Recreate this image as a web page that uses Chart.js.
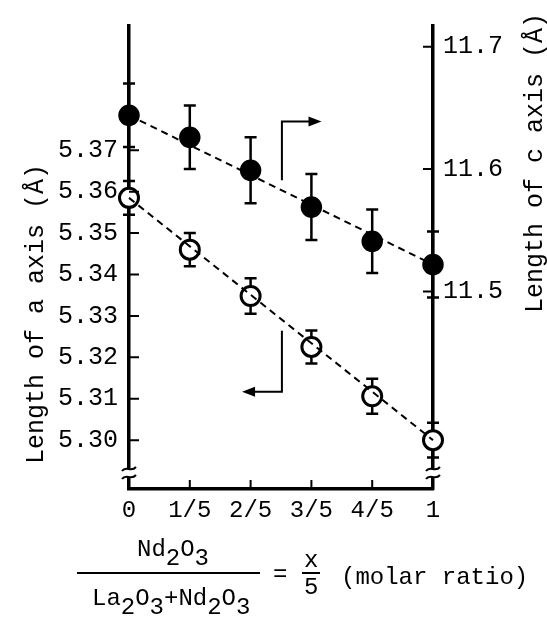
<!DOCTYPE html>
<html>
<head>
<meta charset="utf-8">
<script src="https://cdn.jsdelivr.net/npm/chart.js@4.4.1/dist/chart.umd.min.js"></script>
<style>
  html, body { margin: 0; padding: 0; background: #fff; }
  canvas { display: block; }
</style>
</head>
<body>
<canvas id="latticeChart" width="547" height="618"></canvas>
<script>
// composition x/5 and tick labels
const xValues = [0, 0.2, 0.4, 0.6, 0.8, 1];
const xTickLabels = ['0', '1/5', '2/5', '3/5', '4/5', '1'];

// a axis (open circles, left scale)
const aAxis = [5.3585, 5.3460, 5.3348, 5.3225, 5.3106, 5.3000];
const aErr = [0.0041, 0.0040, 0.0043, 0.0040, 0.0042, 0.0042];
const aFit = [5.3585, 5.3000];
const aTicks = [5.30, 5.31, 5.32, 5.33, 5.34, 5.35, 5.36, 5.37];

// c axis (filled circles, right scale)
const cAxis = [11.644, 11.626, 11.599, 11.569, 11.541, 11.522];
const cErr = [0.026, 0.026, 0.027, 0.027, 0.026, 0.027];
const cFit = [11.644, 11.522];
const cTicks = [11.5, 11.6, 11.7];

// arrows pointing to the scale each series belongs to (data units)
const arrowC = { x: [0.503, 0.503, 0.62], y: [11.591, 11.639, 11.639] };
const arrowA = { x: [0.503, 0.503, 0.385], y: [5.3264, 5.3117, 5.3117] };

const FONT = "'Liberation Mono', 'Courier New', monospace";

function pts(xs, ys) {
  return xs.map((x, i) => ({ x: x, y: ys[i] }));
}

// error bars, drawn under the markers
const errorBars = {
  id: 'errorBars',
  beforeDatasetsDraw(chart) {
    const ctx = chart.ctx;
    const x = chart.scales.x;
    const sets = [
      { scale: chart.scales.y2, vals: cAxis, errs: cErr },
      { scale: chart.scales.y, vals: aAxis, errs: aErr }
    ];
    ctx.save();
    ctx.strokeStyle = '#000';
    ctx.lineWidth = 2.5;
    sets.forEach(s => {
      s.vals.forEach((v, i) => {
        const px = x.getPixelForValue(xValues[i]);
        const top = s.scale.getPixelForValue(v + s.errs[i]);
        const bot = s.scale.getPixelForValue(v - s.errs[i]);
        ctx.beginPath();
        ctx.moveTo(px, top); ctx.lineTo(px, bot);
        ctx.moveTo(px - 6, top); ctx.lineTo(px + 6, top);
        ctx.moveTo(px - 6, bot); ctx.lineTo(px + 6, bot);
        ctx.stroke();
      });
    });
    ctx.restore();
  }
};

// inward tick marks, axis breaks, arrows and titles
const decorations = {
  id: 'decorations',
  afterDraw(chart) {
    const ctx = chart.ctx;
    const area = chart.chartArea;
    const xs = chart.scales.x, ys = chart.scales.y, ys2 = chart.scales.y2;
    ctx.save();
    ctx.strokeStyle = '#000';
    ctx.fillStyle = '#000';
    ctx.lineWidth = 2;

    // tick marks
    ctx.beginPath();
    aTicks.forEach(v => {
      const py = ys.getPixelForValue(v);
      ctx.moveTo(area.left, py); ctx.lineTo(area.left + 10, py);
    });
    cTicks.forEach(v => {
      const py = ys2.getPixelForValue(v);
      ctx.moveTo(area.right - 10, py); ctx.lineTo(area.right + 1, py);
    });
    xValues.slice(1, -1).forEach(v => {
      const px = xs.getPixelForValue(v);
      ctx.moveTo(px, area.bottom); ctx.lineTo(px, area.bottom - 9);
    });
    ctx.stroke();

    // axis breaks
    [area.left, area.right].forEach(ax => {
      ctx.fillStyle = '#fff';
      ctx.fillRect(ax - 3, area.bottom - 20, 6, 8);
      ctx.strokeStyle = '#000';
      ctx.lineWidth = 2;
      [area.bottom - 20, area.bottom - 12].forEach(by => {
        ctx.beginPath();
        ctx.moveTo(ax - 7, by + 2);
        ctx.bezierCurveTo(ax - 3, by - 4, ax + 2, by + 4, ax + 7, by - 2);
        ctx.stroke();
      });
    });

    // arrows
    const drawArrow = (arr, scale) => {
      const p = arr.x.map((v, i) => [xs.getPixelForValue(v), scale.getPixelForValue(arr.y[i])]);
      ctx.strokeStyle = '#000';
      ctx.fillStyle = '#000';
      ctx.lineWidth = 2;
      ctx.beginPath();
      ctx.moveTo(p[0][0], p[0][1]);
      ctx.lineTo(p[1][0], p[1][1]);
      ctx.lineTo(p[2][0], p[2][1]);
      ctx.stroke();
      const dir = Math.sign(p[2][0] - p[1][0]);
      ctx.beginPath();
      ctx.moveTo(p[2][0] + dir * 4, p[2][1]);
      ctx.lineTo(p[2][0] - dir * 9, p[2][1] - 5);
      ctx.lineTo(p[2][0] - dir * 9, p[2][1] + 5);
      ctx.closePath();
      ctx.fill();
    };
    drawArrow(arrowC, ys2);
    drawArrow(arrowA, ys);

    // y axis titles
    ctx.fillStyle = '#000';
    ctx.font = '25px ' + FONT;
    ctx.textAlign = 'center';
    ctx.textBaseline = 'alphabetic';
    ctx.save();
    ctx.translate(43, 314);
    ctx.rotate(-Math.PI / 2);
    ctx.fillText('Length of a axis (Å)', 0, 0);
    ctx.restore();
    ctx.save();
    ctx.translate(542, 163);
    ctx.rotate(-Math.PI / 2);
    ctx.fillText('Length of c axis (Å)', 0, 0);
    ctx.restore();

    // x axis title as a fraction
    ctx.font = '24px ' + FONT;
    ctx.textAlign = 'left';
    const chem = (parts, x, base) => {
      parts.forEach(([t, sub]) => {
        ctx.fillText(t, x, base + (sub ? 9 : 0));
        x += ctx.measureText(t).width;
      });
    };
    chem([['Nd', 0], ['2', 1], ['O', 0], ['3', 1]], 137, 556);
    chem([['La', 0], ['2', 1], ['O', 0], ['3', 1], ['+Nd', 0], ['2', 1], ['O', 0], ['3', 1]], 92, 605);
    ctx.lineWidth = 2;
    ctx.beginPath();
    ctx.moveTo(77, 573); ctx.lineTo(260, 573);
    ctx.moveTo(302, 573); ctx.lineTo(320, 573);
    ctx.stroke();
    ctx.fillText('=', 273, 581);
    ctx.fillText('x', 304, 567);
    ctx.fillText('5', 304, 594);
    ctx.fillText('(molar ratio)', 341, 584);
    ctx.restore();
  }
};

const ctx = document.getElementById('latticeChart').getContext('2d');
const latticeChart = new Chart(ctx, {
  type: 'scatter',
  data: {
    datasets: [
      {
        data: pts([0, 1], cFit), yAxisID: 'y2', showLine: true,
        borderColor: '#000', borderWidth: 2, borderDash: [7, 5],
        pointRadius: 0, clip: false
      },
      {
        data: pts([0, 1], aFit), yAxisID: 'y', showLine: true,
        borderColor: '#000', borderWidth: 2, borderDash: [7, 5],
        pointRadius: 0, clip: false
      },
      {
        data: pts(xValues, cAxis), yAxisID: 'y2',
        pointRadius: 10, pointBackgroundColor: '#000', pointBorderColor: '#000',
        pointBorderWidth: 1.5, clip: false
      },
      {
        data: pts(xValues, aAxis), yAxisID: 'y',
        pointRadius: 9.5, pointBackgroundColor: '#fff', pointBorderColor: '#000',
        pointBorderWidth: 3, clip: false
      }
    ]
  },
  options: {
    responsive: false,
    animation: false,
    events: [],
    layout: { padding: { top: 25, left: 0, right: 0, bottom: 0 } },
    plugins: {
      legend: { display: false },
      tooltip: { enabled: false }
    },
    scales: {
      x: {
        type: 'linear', min: 0, max: 1,
        afterBuildTicks: s => { s.ticks = xValues.map(v => ({ value: v })); },
        afterFit: s => { s.height = 129; },
        grid: { display: true, drawOnChartArea: false, drawTicks: false },
        border: { display: true, width: 3.5, color: '#000' },
        ticks: {
          autoSkip: false, maxRotation: 0, padding: 7, color: '#000',
          font: { family: FONT, size: 24 },
          callback: (v, i) => xTickLabels[i]
        }
      },
      y: {
        type: 'linear', position: 'left', min: 5.2882, max: 5.40,
        afterBuildTicks: s => { s.ticks = aTicks.map(v => ({ value: v })); },
        afterFit: s => { s.width = 129; },
        grid: { display: true, drawOnChartArea: false, drawTicks: false },
        border: { display: true, width: 3.5, color: '#000' },
        ticks: {
          padding: 11, color: '#000',
          font: { family: FONT, size: 25 },
          callback: v => v.toFixed(2)
        }
      },
      y2: {
        type: 'linear', position: 'right', min: 11.3385, max: 11.717,
        afterBuildTicks: s => { s.ticks = cTicks.map(v => ({ value: v })); },
        afterFit: s => { s.width = 114; },
        grid: { display: true, drawOnChartArea: false, drawTicks: false },
        border: { display: true, width: 3.5, color: '#000' },
        ticks: {
          padding: 10, color: '#000',
          font: { family: FONT, size: 25 },
          callback: v => v.toFixed(1)
        }
      }
    }
  },
  plugins: [errorBars, decorations]
});
</script>
</body>
</html>
